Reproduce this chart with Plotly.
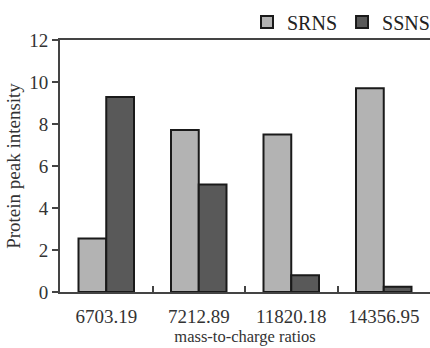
import plotly.graph_objects as go

categories = ["6703.19", "7212.89", "11820.18", "14356.95"]
srns = [2.55, 7.72, 7.5, 9.7]
ssns = [9.28, 5.12, 0.8, 0.25]

font_family = "Liberation Serif, Times New Roman, serif"

fig = go.Figure()
fig.add_trace(go.Bar(name="SRNS", x=categories, y=srns,
                     marker=dict(color="#b3b3b3", line=dict(color="#1a1a1a", width=2))))
fig.add_trace(go.Bar(name="SSNS", x=categories, y=ssns,
                     marker=dict(color="#595959", line=dict(color="#1a1a1a", width=2))))

fig.update_layout(
    width=430, height=348,
    margin=dict(l=60, r=0, t=40, b=56, autoexpand=False),
    paper_bgcolor="white", plot_bgcolor="white",
    barmode="group", bargap=0.4, bargroupgap=0,
    font=dict(family=font_family, color="#333333", size=17),
    showlegend=True,
    legend=dict(orientation="h", xref="container", yref="container",
                x=247/430, xanchor="left", y=1 - 22/348, yanchor="middle",
                font=dict(size=20, family=font_family, color="#222222"),
                itemwidth=30, bgcolor="rgba(0,0,0,0)", tracegroupgap=0),
)
fig.update_xaxes(
    type="category", range=[-0.5, 3.5], automargin=False,
    showline=True, linecolor="#444444", linewidth=2, mirror=True,
    ticks="inside", tickson="boundaries", ticklen=6, tickcolor="#444444", tickwidth=1.5,
    tickfont=dict(size=19, family=font_family, color="#333333"),
    ticklabelstandoff=6,
    title=dict(text="mass-to-charge ratios", font=dict(size=16.5, family=font_family, color="#333333"), standoff=5),
    showgrid=False,
)
fig.update_yaxes(
    range=[0, 12], tickvals=[0, 2, 4, 6, 8, 10, 12], automargin=False,
    showline=True, linecolor="#444444", linewidth=2,
    ticks="outside", ticklen=6, tickcolor="#444444", tickwidth=1.5,
    tickfont=dict(size=19, family=font_family, color="#333333"),
    title=dict(text="Protein peak intensity", font=dict(size=19, family=font_family, color="#333333"), standoff=4),
    showgrid=False, zeroline=False,
)

fig.write_html("out.html", config={"displayModeBar": False},
               post_script="document.body.style.margin='0';")
